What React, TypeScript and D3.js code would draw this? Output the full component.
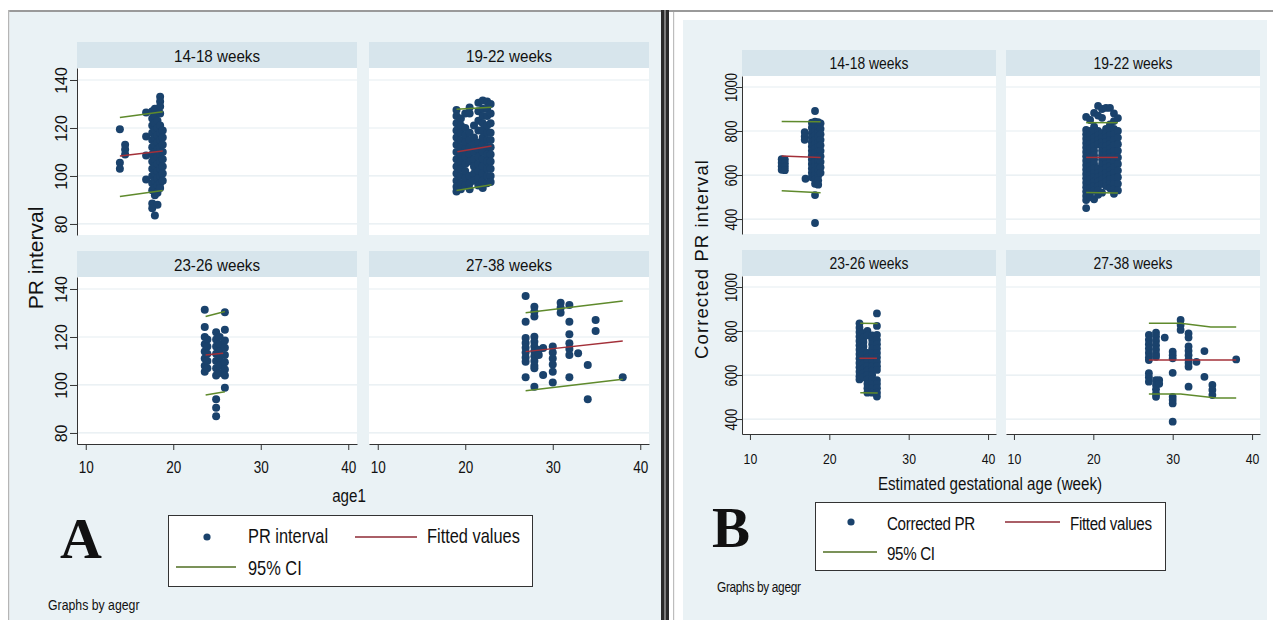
import { useEffect, useRef } from 'react';
import * as d3 from 'd3';

// Facet titles and tick values
const AGE_GROUPS = ['14-18 weeks', '19-22 weeks', '23-26 weeks', '27-38 weeks'];
const X_TICKS = [10, 20, 30, 40];
const PR_TICKS = [80, 100, 120, 140];
const CPR_TICKS = [400, 600, 800, 1000];

// Panel A: PR interval, one entry per age column (age in weeks, values in ms)
const PR_14_18 = [
  { age: 13.9, v: [119.5, 105.5, 103] },
  { age: 14.5, v: [113, 111, 109] },
  { age: 16.9, v: [126.5, 116.5, 108.5, 98.5] },
  { age: 17.6, v: [127, 124, 121, 118, 115, 112, 109, 106, 103, 100, 97, 94, 88.5, 86.5] },
  { age: 17.9, v: [128, 125, 122, 119, 116, 113, 110, 107, 104, 101, 98, 95, 92, 83.5] },
  { age: 18.2, v: [123, 120, 117, 114, 111, 108, 105, 102, 99, 96, 93, 88] },
  { age: 18.5, v: [133, 131, 129, 126, 121, 118, 115, 112, 109, 106, 103, 100, 97, 95] },
  { age: 18.8, v: [119, 116, 113, 110, 107, 104, 101, 98] },
];
const PR_19_22 = [
  { age: 19.0, v: [127.5, 125, 122, 119, 116, 113, 110, 107, 104, 101, 98, 95.5, 93.5] },
  { age: 19.5, v: [124, 121, 118, 115, 112, 109, 106, 103, 100, 97, 94.5] },
  { age: 20.0, v: [126, 120, 117, 114, 111, 108, 105, 102, 99, 96] },
  { age: 20.5, v: [128.5, 126, 118, 115, 112, 109, 106, 100, 97, 94.5] },
  { age: 21.0, v: [121, 116, 113, 110, 107, 104, 101, 98] },
  { age: 21.5, v: [130.5, 127, 123, 119, 114, 111, 108, 105, 102, 99, 96] },
  { age: 22.0, v: [131.5, 128, 125, 122, 119, 116, 113, 110, 107, 104, 101, 98, 95] },
  { age: 22.5, v: [131, 128, 125, 121, 118, 115, 112, 109, 106, 103, 100, 97] },
  { age: 22.9, v: [130, 126, 122, 118, 115, 112, 109, 106, 103, 100, 97.5] },
];
const PR_23_26 = [
  { age: 23.6, v: [131.3, 124.2, 120, 117, 114, 111, 108, 105.5] },
  { age: 23.9, v: [119, 116, 113, 110, 107] },
  { age: 24.9, v: [122, 119, 116, 113, 110, 107, 104, 94, 90.5, 87] },
  { age: 25.3, v: [120, 117, 114, 111, 108, 105] },
  { age: 25.9, v: [130.3, 123, 118.5, 115.5, 112.5, 109.5, 106.5, 104, 98.8] },
];
const PR_27_38 = [
  { age: 26.9, v: [137.1, 126.4, 119.6, 117.5, 115.5, 113.5, 111.5, 109.7, 103.2] },
  { age: 27.9, v: [132.6, 130.5, 128.5, 120.1, 118, 116, 114, 112, 110, 108, 107, 99.3] },
  { age: 28.4, v: [114.6, 112.5] },
  { age: 28.9, v: [115.4, 104.2] },
  { age: 30.0, v: [116, 113.5, 111, 108.5, 105.5, 101] },
  { age: 30.9, v: [134.3, 132.2, 130.1] },
  { age: 31.9, v: [133.3, 126.4, 121.1, 117.4, 115, 112.5, 103.2] },
  { age: 32.9, v: [113.2] },
  { age: 34.0, v: [108.3, 94] },
  { age: 34.9, v: [127.1, 122.5] },
  { age: 38.0, v: [103.2] },
];
const PR_FIT = [
  [[13.9, 108.3], [18.8, 110.4]],
  [[19.1, 110.1], [23.0, 112.5]],
  [[23.7, 112.5], [25.7, 113.2]],
  [[26.9, 113.9], [38.0, 118.3]],
];
const PR_UPPER = [
  [[13.9, 124.4], [18.8, 126.8]],
  [[19.0, 127.8], [23.0, 128.6]],
  [[23.7, 128.5], [25.9, 130.6]],
  [[26.9, 130.1], [38.0, 135.0]],
];
const PR_LOWER = [
  [[13.9, 91.4], [18.8, 93.9]],
  [[19.0, 93.9], [23.0, 96.3]],
  [[23.7, 95.8], [25.9, 97.2]],
  [[26.9, 97.6], [38.0, 102.4]],
];

// Panel B: corrected PR interval
const CPR_14_18 = [
  { age: 14.0, v: [672, 656, 640, 624] },
  { age: 14.4, v: [670, 654, 638, 622] },
  { age: 16.9, v: [795, 775, 760] },
  { age: 17.0, v: [583] },
  { age: 17.8, v: [838, 815, 790, 770, 750, 730, 710, 690, 670, 650, 630, 610, 590] },
  { age: 18.2, v: [891, 842, 820, 800, 780, 760, 740, 720, 700, 680, 660, 640, 620, 600, 580, 560, 509, 382] },
  { age: 18.6, v: [840, 818, 796, 774, 752, 730, 708, 686, 664, 642, 620, 598, 576, 556] },
  { age: 18.9, v: [835, 810, 785, 760, 735, 710, 685, 660, 635, 610] },
];
const CPR_19_22 = [
  { age: 19.1, v: [864, 805, 785, 765, 745, 725, 705, 685, 665, 645, 625, 605, 585, 565, 545, 525, 505, 486, 450] },
  { age: 19.6, v: [850, 800, 780, 760, 740, 720, 700, 680, 660, 640, 620, 600, 580, 560, 540, 520, 500] },
  { age: 20.1, v: [882, 820, 795, 770, 750, 730, 710, 690, 670, 650, 630, 610, 590, 570, 550, 530, 490] },
  { age: 20.6, v: [914, 870, 800, 780, 760, 740, 630, 610, 590, 570, 550, 530, 510] },
  { age: 21.1, v: [900, 860, 790, 770, 750, 730, 710, 690, 670, 650, 620, 600, 580, 560, 520] },
  { age: 21.6, v: [905, 810, 790, 770, 750, 730, 710, 690, 670, 650, 630, 610, 590, 570, 550] },
  { age: 22.1, v: [905, 830, 800, 780, 760, 740, 720, 700, 680, 660, 640, 620, 600, 580, 560, 540] },
  { age: 22.6, v: [880, 845, 810, 785, 760, 735, 710, 685, 660, 635, 610, 585, 560, 535, 515] },
  { age: 23.1, v: [859, 800, 770, 740, 710, 680, 650, 620, 590, 560, 530] },
];
const CPR_23_26 = [
  { age: 23.8, v: [835, 815, 795, 775, 755, 735, 715, 695, 675, 655, 635, 615, 595, 580] },
  { age: 24.3, v: [790, 770, 750, 730, 710, 690, 670, 650, 630, 610, 590] },
  { age: 24.8, v: [800, 780, 700, 680, 660, 640, 620, 600, 580, 560, 540, 520] },
  { age: 25.4, v: [780, 760, 740, 720, 700, 680, 660, 640, 620, 600, 580, 560, 540, 520] },
  { age: 26.0, v: [880, 823, 782, 760, 740, 720, 700, 680, 660, 640, 623, 577, 560, 540, 520, 502] },
];
const CPR_27_38 = [
  { age: 27.0, v: [782, 760, 740, 720, 700, 680, 668, 608, 590, 570] },
  { age: 27.9, v: [792, 775, 755, 735, 715, 695, 683, 577, 555, 535, 515, 501] },
  { age: 28.3, v: [577, 560] },
  { age: 29.0, v: [770] },
  { age: 30.0, v: [706, 690, 676, 610, 501, 486, 471, 388] },
  { age: 31.0, v: [850, 827, 805] },
  { age: 32.0, v: [789, 770, 730, 710, 690, 670, 655, 638, 547] },
  { age: 33.0, v: [660] },
  { age: 34.0, v: [709, 592] },
  { age: 35.0, v: [555, 532, 509] },
  { age: 38.0, v: [671] },
];
const CPR_FIT = [
  [[14.0, 686], [18.9, 680]],
  [[19.1, 680], [23.1, 680]],
  [[23.8, 676], [26.0, 676]],
  [[27.0, 668], [38.0, 668]],
];
const CPR_UPPER = [
  [[14.0, 843], [18.9, 842]],
  [[19.1, 838], [23.1, 838]],
  [[23.9, 835], [26.1, 834]],
  [[27.0, 835], [31.0, 835], [34.8, 818], [38.0, 818]],
];
const CPR_LOWER = [
  [[14.0, 529], [18.9, 520]],
  [[19.1, 521], [23.1, 518]],
  [[23.9, 520], [26.1, 518]],
  [[27.0, 514], [31.0, 514], [35.5, 496], [38.0, 496]],
];

const X_DOMAIN = [9, 41];

const BG = '#eaf2f5';
const HEAD = '#d7e5ec';
const GRID = '#e5edf1';
const AXIS = '#333';
const DOT = '#1a426c';
const FIT = '#a33039';
const CI = '#5f8a2c';
const SANS = '"Liberation Sans", Arial, sans-serif';
const SERIF = '"Liberation Serif", "Times New Roman", serif';
const NARROW = 0.82; // horizontal squeeze of the exported Stata text

const PANEL_A = {
  colX: [77, 369], rowY: [42, 251], w: 280, headH: 26, plotH: 167, r: 4,
  yDomain: [75.4, 145], yTicks: PR_TICKS,
  points: [PR_14_18, PR_19_22, PR_23_26, PR_27_38],
  fit: PR_FIT, upper: PR_UPPER, lower: PR_LOWER,
  head: { size: 16.5, sx: 0.92, base: 20 },
  yLab: { size: 16, sx: 1, off: 10 }, yTick: 7,
  xLab: { size: 16.5, base: 29 },
  yTitle: { text: 'PR interval', x: 43, y: 258, size: 21, spacing: 0 },
  xTitle: { text: 'age1', x: 349, y: 502, size: 18.5 },
  letter: { text: 'A', x: 60, y: 558, size: 58 },
  legend: { x: 168, y: 515, w: 364, h: 71, dot: [207, 537], text: 'PR interval', tx: 248,
    fit: [355, 417, 537], fx: 427, ci: [176, 236, 567], r1: 543, r2: 575, size: 20, ls: 0 },
  by: { text: 'Graphs by agegr', x: 48, y: 610, size: 15, ls: 0 },
};

const PANEL_B = {
  colX: [742, 1006], rowY: [50, 250], w: 254, headH: 26, plotH: 158, r: 3.9,
  yDomain: [332, 1050], yTicks: CPR_TICKS,
  points: [CPR_14_18, CPR_19_22, CPR_23_26, CPR_27_38],
  fit: CPR_FIT, upper: CPR_UPPER, lower: CPR_LOWER,
  head: { size: 17, sx: NARROW, base: 19 },
  yLab: { size: 16, sx: NARROW, off: 5 }, yTick: 6,
  xLab: { size: 15, base: 30 },
  yTitle: { text: 'Corrected PR interval', x: 708, y: 259, size: 18.5, spacing: 1.1 },
  xTitle: { text: 'Estimated gestational age (week)', x: 990, y: 490, size: 18.5 },
  letter: { text: 'B', x: 712, y: 547, size: 57 },
  legend: { x: 815, y: 502, w: 350, h: 68, dot: [851, 522], text: 'Corrected PR', tx: 887,
    fit: [1005, 1060, 522], fx: 1070, ci: [823, 877, 552], r1: 530, r2: 560, size: 18.5, ls: -0.4 },
  by: { text: 'Graphs by agegr', x: 717, y: 592, size: 14.5, ls: -0.4 },
};

// Text squeezed horizontally to mimic the condensed export
function addText(parent, x, y, text, size, opts: any = {}) {
  const sx = opts.sx ?? NARROW;
  parent.append('text')
    .attr('transform', `translate(${x},${y}) scale(${sx},1)`)
    .attr('text-anchor', opts.anchor ?? 'start')
    .attr('font-family', opts.font ?? SANS)
    .attr('font-size', size)
    .attr('font-weight', opts.weight ?? null)
    .attr('letter-spacing', opts.ls ?? 0)
    .attr('fill', '#111')
    .text(text);
}

function drawPanel(svg, p) {
  const x = d3.scaleLinear().domain(X_DOMAIN).range([0, p.w]);
  const y = d3.scaleLinear().domain(p.yDomain).range([p.plotH, 0]);
  const line = d3.line().x((d) => x(d[0])).y((d) => y(d[1]));

  AGE_GROUPS.forEach((label, i) => {
    const col = i % 2;
    const row = Math.floor(i / 2);
    const g = svg.append('g').attr('transform', `translate(${p.colX[col]},${p.rowY[row]})`);

    g.append('rect').attr('width', p.w).attr('height', p.headH).attr('fill', HEAD);
    addText(g, p.w / 2, p.head.base, label, p.head.size, { anchor: 'middle', sx: p.head.sx });

    const pg = g.append('g').attr('transform', `translate(0,${p.headH})`);
    pg.append('rect').attr('width', p.w).attr('height', p.plotH).attr('fill', '#fff');

    pg.selectAll('line.grid')
      .data(p.yTicks)
      .join('line')
      .attr('class', 'grid')
      .attr('x1', 0).attr('x2', p.w)
      .attr('y1', (d) => y(d)).attr('y2', (d) => y(d))
      .attr('stroke', GRID).attr('stroke-width', 1.2);

    if (col === 0) {
      const ax = pg.append('g').call(
        d3.axisLeft(y).tickValues(p.yTicks).tickFormat(d3.format('d'))
          .tickSize(p.yTick).tickSizeOuter(0)
      );
      ax.select('.domain').attr('stroke', AXIS);
      ax.selectAll('.tick line').attr('stroke', AXIS);
      ax.selectAll('.tick text')
        .attr('x', null).attr('dy', null)
        .attr('text-anchor', 'middle')
        .attr('transform', `translate(${-p.yLab.off},0) rotate(-90) scale(${p.yLab.sx},1)`)
        .attr('font-family', SANS).attr('font-size', p.yLab.size)
        .attr('fill', '#111');
    }

    if (row === 1) {
      const ax = pg.append('g')
        .attr('transform', `translate(0,${p.plotH})`)
        .call(d3.axisBottom(x).tickValues(X_TICKS).tickFormat(d3.format('d'))
          .tickSize(6).tickSizeOuter(0));
      ax.select('.domain').attr('stroke', AXIS);
      ax.selectAll('.tick line').attr('stroke', AXIS);
      ax.selectAll('.tick text')
        .attr('y', null).attr('dy', null)
        .attr('transform', `translate(0,${p.xLab.base}) scale(${NARROW},1)`)
        .attr('font-family', SANS).attr('font-size', p.xLab.size)
        .attr('fill', '#111');
    }

    const pts = p.points[i].flatMap((c) => c.v.map((v) => [c.age, v]));
    pg.selectAll('circle')
      .data(pts)
      .join('circle')
      .attr('cx', (d) => x(d[0])).attr('cy', (d) => y(d[1]))
      .attr('r', p.r)
      .attr('fill', DOT);

    [[p.upper[i], CI], [p.lower[i], CI], [p.fit[i], FIT]].forEach(([data, color]) => {
      pg.append('path')
        .datum(data)
        .attr('d', line)
        .attr('fill', 'none')
        .attr('stroke', color)
        .attr('stroke-width', 1.5);
    });
  });

  svg.append('text')
    .attr('transform', `translate(${p.yTitle.x},${p.yTitle.y}) rotate(-90)`)
    .attr('text-anchor', 'middle')
    .attr('font-family', SANS).attr('font-size', p.yTitle.size)
    .attr('letter-spacing', p.yTitle.spacing)
    .attr('fill', '#111')
    .text(p.yTitle.text);

  addText(svg, p.xTitle.x, p.xTitle.y, p.xTitle.text, p.xTitle.size, { anchor: 'middle' });
  addText(svg, p.letter.x, p.letter.y, p.letter.text, p.letter.size,
    { sx: 1, font: SERIF, weight: 'bold' });

  // Legend
  const L = p.legend;
  svg.append('rect')
    .attr('x', L.x + 0.5).attr('y', L.y + 0.5)
    .attr('width', L.w).attr('height', L.h)
    .attr('fill', '#fff').attr('stroke', '#333');
  svg.append('circle').attr('cx', L.dot[0]).attr('cy', L.dot[1]).attr('r', 3.6).attr('fill', DOT);
  svg.append('line')
    .attr('x1', L.fit[0]).attr('x2', L.fit[1]).attr('y1', L.fit[2]).attr('y2', L.fit[2])
    .attr('stroke', '#8e2a35').attr('stroke-width', 1.6);
  svg.append('line')
    .attr('x1', L.ci[0]).attr('x2', L.ci[1]).attr('y1', L.ci[2]).attr('y2', L.ci[2])
    .attr('stroke', '#4f6e22').attr('stroke-width', 1.6);
  addText(svg, L.tx, L.r1, L.text, L.size, { ls: L.ls });
  addText(svg, L.fx, L.r1, 'Fitted values', L.size, { ls: L.ls });
  addText(svg, L.tx, L.r2, '95% CI', L.size, { ls: L.ls });

  addText(svg, p.by.x, p.by.y, p.by.text, p.by.size, { ls: p.by.ls });
}

export default function App() {
  const svgRef = useRef<SVGSVGElement>(null);

  useEffect(() => {
    if (!svgRef.current) return;
    const svg = d3.select(svgRef.current);
    svg.selectAll('*').remove();

    // Two exported graph windows side by side
    svg.append('rect').attr('x', 8).attr('y', 10).attr('width', 653).attr('height', 2).attr('fill', '#9a9a9a');
    svg.append('rect').attr('x', 8).attr('y', 10).attr('width', 1.5).attr('height', 610).attr('fill', '#b5b5b5');
    svg.append('rect').attr('x', 9.5).attr('y', 12).attr('width', 651.5).attr('height', 608).attr('fill', BG);
    svg.append('rect').attr('x', 661).attr('y', 10).attr('width', 3).attr('height', 610).attr('fill', '#2b2b2b');
    svg.append('rect').attr('x', 664).attr('y', 10).attr('width', 2).attr('height', 610).attr('fill', '#7c7c7c');
    svg.append('rect').attr('x', 666).attr('y', 10).attr('width', 3).attr('height', 610).attr('fill', '#2b2b2b');
    svg.append('rect').attr('x', 669).attr('y', 10).attr('width', 604).attr('height', 2).attr('fill', '#9a9a9a');
    svg.append('rect').attr('x', 673).attr('y', 12).attr('width', 1.2).attr('height', 608).attr('fill', '#bdbdbd');
    svg.append('rect').attr('x', 683).attr('y', 20).attr('width', 584).attr('height', 600).attr('fill', BG);

    drawPanel(svg, PANEL_A);
    drawPanel(svg, PANEL_B);
  }, []);

  return (
    <svg
      ref={svgRef}
      width={1273}
      height={620}
      style={{ position: 'fixed', left: 0, top: 0, background: '#fff' }}
    />
  );
}
